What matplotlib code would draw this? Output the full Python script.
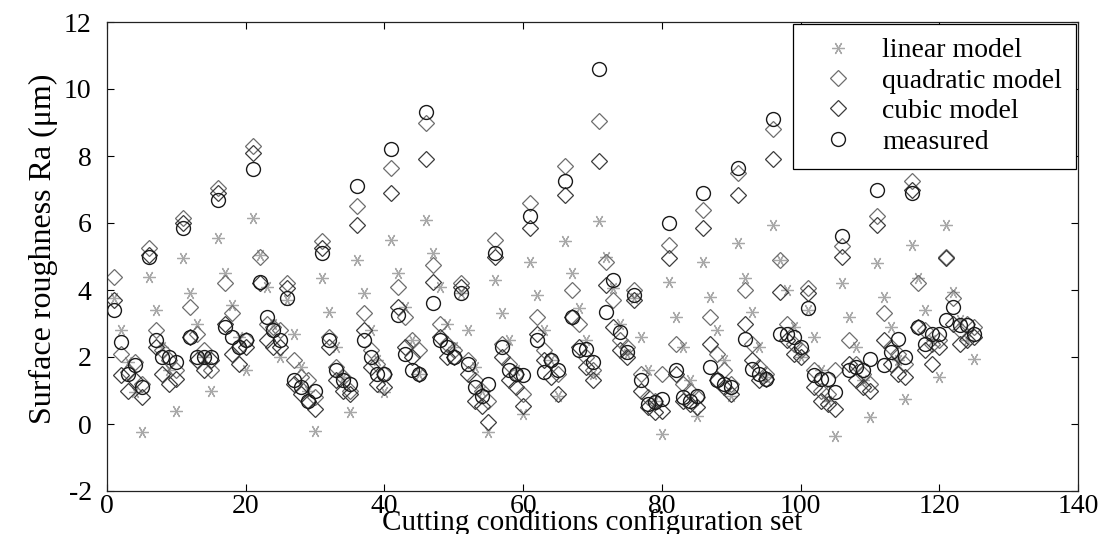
import matplotlib
matplotlib.use("Agg")
import matplotlib.pyplot as plt

plt.rcParams['font.family'] = ['Liberation Serif', 'DejaVu Serif']
plt.rcParams['axes.unicode_minus'] = False

config = list(range(1, 126))

linear_model = [
    3.75, 2.8, 1.85, 0.95, -0.25,
    4.4, 3.4, 2.3, 1.6, 0.4,
    4.95, 3.9, 3.0, 2.0, 1.0,
    5.55, 4.5, 3.55, 2.6, 1.6,
    6.15, 5.05, 4.1, 3.0, 2.0,
    3.7, 2.7, 1.7, 1.0, -0.2,
    4.35, 3.35, 2.3, 1.4, 0.35,
    4.9, 3.9, 2.8, 1.9, 0.95,
    5.5, 4.5, 3.5, 2.5, 1.5,
    6.1, 5.1, 4.1, 3.0, 2.3,
    3.9, 2.8, 1.7, 1.0, -0.25,
    4.3, 3.3, 2.5, 1.6, 0.3,
    4.85, 3.85, 2.8, 1.9, 0.85,
    5.45, 4.5, 3.45, 2.5, 1.5,
    6.05, 5.0, 4.05, 3.0, 2.1,
    3.75, 2.6, 1.6, 0.7, -0.3,
    4.25, 3.2, 2.3, 1.3, 0.25,
    4.85, 3.8, 2.8, 1.9, 0.85,
    5.4, 4.35, 3.35, 2.3, 1.4,
    5.95, 4.9, 4.0, 2.9, 2.0,
    3.4, 2.6, 1.6, 0.7, -0.35,
    4.2, 3.2, 2.3, 1.3, 0.2,
    4.8, 3.8, 2.9, 1.9, 0.75,
    5.35, 4.35, 3.4, 2.5, 1.4,
    5.95, 3.95, 3.1, 2.5, 1.95,
]

quadratic_model = [
    4.4, 2.1, 1.55, 1.85, 1.2,
    5.25, 2.8, 2.2, 1.9, 1.6,
    6.15, 3.5, 2.7, 2.2, 1.6,
    7.05, 4.2, 3.3, 2.3, 2.5,
    8.3, 5.0, 3.0, 2.9, 2.8,
    4.2, 1.9, 1.4, 1.3, 0.8,
    5.45, 2.6, 1.7, 1.4, 1.0,
    6.5, 3.3, 2.2, 1.8, 1.5,
    7.65, 4.1, 3.2, 2.5, 2.2,
    9.0, 4.75, 3.0, 2.4, 2.2,
    4.2, 1.9, 1.3, 1.0, 0.7,
    5.5, 2.4, 1.8, 1.5, 0.9,
    6.6, 3.2, 2.2, 1.9, 1.5,
    7.7, 4.0, 3.0, 2.0, 1.6,
    9.05, 4.85, 3.7, 2.5, 2.3,
    4.0, 1.5, 0.8, 0.7, 1.5,
    5.35, 2.4, 1.2, 1.0, 0.8,
    6.4, 3.2, 2.1, 1.6, 1.2,
    7.5, 4.0, 2.4, 1.7, 1.5,
    8.8, 4.9, 3.0, 2.4, 2.2,
    4.05, 1.6, 1.0, 0.9, 1.6,
    5.3, 2.5, 1.8, 1.5, 1.2,
    6.2, 3.3, 2.3, 2.1, 1.8,
    7.25, 4.2, 2.8, 2.4, 2.5,
    5.0, 3.75, 2.8, 3.0, 2.9,
]

cubic_model = [
    3.7, 1.45, 1.0, 1.3, 0.8,
    5.05, 2.3, 1.5, 1.2, 1.35,
    6.0, 2.6, 1.9, 1.6, 1.9,
    6.9, 3.0, 2.1, 1.8, 2.3,
    8.1, 4.2, 2.5, 2.3, 2.3,
    4.05, 1.2, 0.9, 0.7, 0.45,
    5.25, 2.3, 1.3, 1.0, 0.9,
    5.95, 2.8, 1.7, 1.2, 1.1,
    6.9, 3.5, 2.3, 2.0, 1.5,
    7.9, 4.25, 2.6, 2.0, 2.0,
    4.1, 1.5, 0.7, 0.55, 0.05,
    5.0, 2.0, 1.3, 1.1, 0.55,
    5.85, 2.7, 1.9, 1.4, 0.9,
    6.85, 3.2, 2.3, 1.7, 1.3,
    7.85, 4.15, 2.9, 2.2, 2.0,
    3.7, 1.0, 0.5, 0.35, 0.4,
    4.95, 1.5, 0.7, 0.6, 0.5,
    5.85, 2.4, 1.3, 1.1, 0.9,
    6.85, 3.0, 1.9, 1.3, 1.35,
    7.9, 3.95, 2.5, 2.1, 2.0,
    3.9, 1.1, 0.7, 0.6, 0.45,
    5.0, 1.8, 1.3, 1.1, 1.0,
    5.95, 2.5, 1.8, 1.5, 1.4,
    7.0, 2.9, 2.2, 1.8, 2.3,
    4.95, 3.0, 2.4, 2.5, 2.6,
]

measured = [
    3.4, 2.45, 1.5, 1.75, 1.1,
    5.0, 2.5, 2.0, 2.0, 1.85,
    5.85, 2.6, 2.0, 2.0, 2.0,
    6.7, 2.9, 2.6, 2.3, 2.5,
    7.6, 4.25, 3.2, 2.8, 2.5,
    3.75, 1.3, 1.1, 0.7, 1.0,
    5.1, 2.5, 1.6, 1.3, 1.2,
    7.1, 2.5, 2.0, 1.5, 1.5,
    8.2, 3.25, 2.1, 1.6, 1.5,
    9.3, 3.6, 2.5, 2.3, 2.0,
    3.9, 1.8, 1.1, 0.85, 1.2,
    5.1, 2.3, 1.6, 1.5, 1.45,
    6.2, 2.5, 1.55, 1.9, 1.6,
    7.25, 3.2, 2.2, 2.25, 1.85,
    10.6, 3.35, 4.3, 2.75, 2.15,
    3.85, 1.3, 0.6, 0.65, 0.75,
    6.0, 1.6, 0.8, 0.7, 0.85,
    6.9, 1.7, 1.3, 1.2, 1.1,
    7.65, 2.55, 1.65, 1.5, 1.35,
    9.1, 2.7, 2.7, 2.6, 2.3,
    3.45, 1.45, 1.35, 1.35, 0.95,
    5.6, 1.6, 1.7, 1.6, 1.95,
    7.0, 1.75, 2.15, 2.55, 2.0,
    6.9, 2.9, 2.4, 2.7, 2.7,
    3.1, 3.5, 2.95, 2.95, 2.7,
]

xticks = [0, 20, 40, 60, 80, 100, 120, 140]
yticks = [-2, 0, 2, 4, 6, 8, 10, 12]

W, H = 1105, 534
fig = plt.figure(figsize=(W / 100, H / 100), dpi=100)
ax = fig.add_axes([107 / W, 1 - 491 / H, (1078 - 107) / W, (491 - 22) / H])

ax.plot(config, linear_model, linestyle='none', marker=(6, 2, 90), markersize=9,
        markeredgewidth=0.9, color='#a8a8a8', label='linear model')
ax.plot(config, quadratic_model, linestyle='none', marker='D', markersize=8,
        markerfacecolor='none', markeredgewidth=0.9, markeredgecolor='#6e6e6e',
        label='quadratic model')
ax.plot(config, cubic_model, linestyle='none', marker='D', markersize=8,
        markerfacecolor='none', markeredgewidth=0.9, markeredgecolor='#3c3c3c',
        label='cubic model')
ax.plot(config, measured, linestyle='none', marker='o', markersize=10,
        markerfacecolor='none', markeredgewidth=1.0, markeredgecolor='#1a1a1a',
        label='measured')

ax.set_xlim(0, 140)
ax.set_ylim(-2, 12)
ax.set_xticks(xticks)
ax.set_yticks(yticks)
ax.tick_params(direction='in', top=True, right=True, length=5, width=0.8,
               labelsize=20)
ax.tick_params(axis='x', pad=2)
ax.tick_params(axis='y', pad=11)
for s in ax.spines.values():
    s.set_linewidth(0.9)
    s.set_color('#222222')

ax.set_xlabel('Cutting conditions configuration set', fontsize=21,
              va='baseline')
ax.xaxis.set_label_coords(0.5, -0.083)
ax.set_ylabel('Surface roughness Ra (μm)', fontsize=23)
ax.yaxis.set_label_coords(-0.05, 0.516)

leg = ax.legend(loc='upper right', fontsize=20, frameon=True, fancybox=False,
                edgecolor='black', borderaxespad=0.07, labelspacing=0.18,
                handlelength=2.2, handletextpad=0.5, borderpad=0.5)
leg.get_frame().set_linewidth(0.9)
leg.get_frame().set_alpha(1)

fig.savefig('out.png', dpi=100)
